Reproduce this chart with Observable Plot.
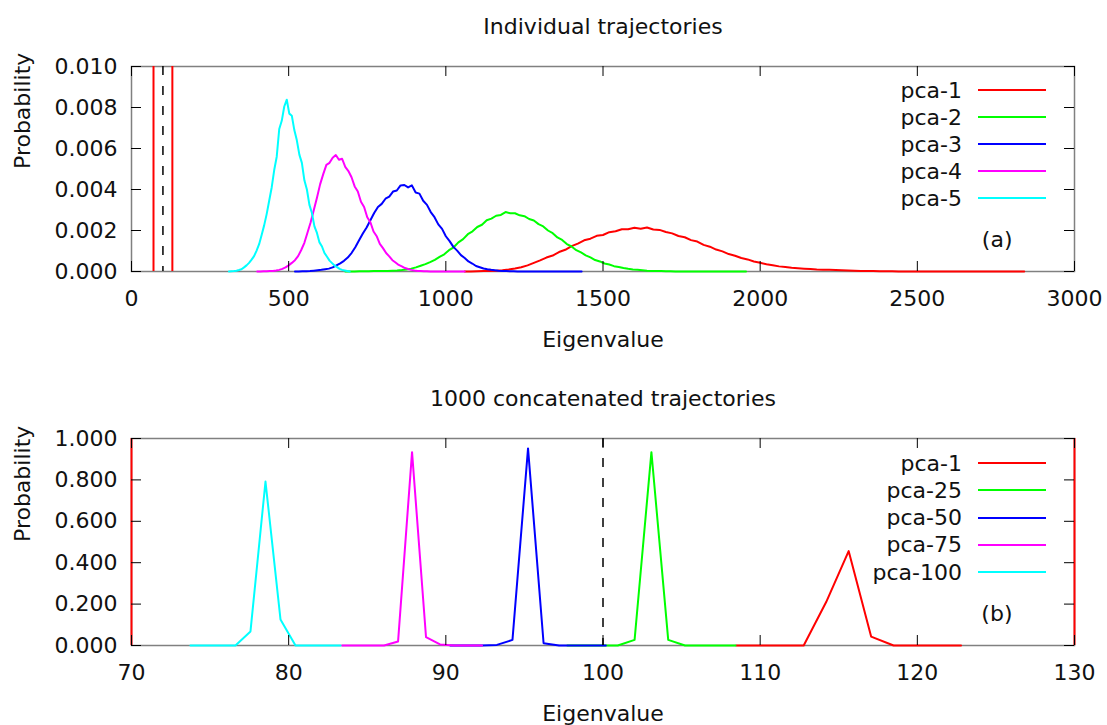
<!DOCTYPE html>
<html>
<head>
<meta charset="utf-8">
<script src="https://cdn.jsdelivr.net/npm/d3@7"></script>
<script src="https://cdn.jsdelivr.net/npm/@observablehq/plot@0.6"></script>
<style>
  html, body { margin: 0; padding: 0; background: #fff; overflow: hidden; }
  #fig { position: relative; width: 1107px; height: 725px; font-family: "DejaVu Sans", sans-serif; }
  #fig svg { position: absolute; left: 0; }
  .legend { position: absolute; left: 830px; font-size: 22px; color: #111; }
  .legend .row { display: flex; align-items: center; }
  .legend .name { width: 132px; text-align: right; }
  .legend .swatch { width: 68px; height: 0; border-top: 2.5px solid; margin-left: 16px; }
</style>
</head>
<body>
<div id="fig"></div>
<script>
// ---------- Panel (a): individual trajectories, eigenvalue histograms ----------
const topSeries = ["pca-1", "pca-2", "pca-3", "pca-4", "pca-5"];
// histogram bin grid (first bin position and bin width, eigenvalue units)
const topBinStart = [1060, 680, 520, 400, 310];
const topBinWidth = [20, 15, 12, 10, 8];
// probabilities in units of 1e-3
const pca1Top = [0,0,0.01,0.02,0.03,0.04,0.06,0.1,0.15,0.21,0.3,0.42,0.54,0.68,0.78,0.95,1.06,1.24,1.36,1.52,
  1.6,1.74,1.78,1.92,1.96,2.06,2.06,2.13,2.09,2.15,2.05,2.03,1.93,1.86,1.73,1.67,1.53,1.46,1.3,1.21,
  1.07,0.98,0.85,0.77,0.66,0.59,0.49,0.43,0.35,0.31,0.25,0.22,0.18,0.16,0.14,0.12,0.1,0.09,0.08,0.07,
  0.06,0.05,0.04,0.03,0.02,0.02,0.01,0.01,0.01,0,0,0,0,0,0,0,0,0,0,0,0,0,0,0,0,0,0,0,0,0];
const pca2Top = [0,0,0,0.01,0.01,0.01,0.02,0.02,0.03,0.03,0.04,0.05,0.07,0.1,0.14,0.2,0.28,0.36,0.46,0.57,
  0.71,0.84,1.04,1.18,1.42,1.58,1.82,1.96,2.17,2.28,2.5,2.58,2.72,2.76,2.9,2.84,2.84,2.74,2.7,2.56,
  2.49,2.31,2.2,2.0,1.87,1.66,1.54,1.34,1.22,1.04,0.93,0.79,0.69,0.56,0.49,0.39,0.34,0.26,0.22,0.17,
  0.13,0.1,0.08,0.06,0.04,0.03,0.02,0.02,0.01,0.01,0,0,0,0,0,0,0,0,0,0,0,0,0,0,0,0];
const pca3Top = [0,0,0.01,0.01,0.02,0.04,0.06,0.08,0.11,0.14,0.2,0.3,0.4,0.52,0.68,0.9,1.18,1.52,1.85,2.15,
  2.5,2.85,3.15,3.3,3.55,3.65,3.9,3.95,4.2,4.22,4.1,4.2,3.85,3.8,3.45,3.25,2.9,2.65,2.3,2.08,
  1.72,1.48,1.2,1.02,0.8,0.66,0.49,0.39,0.27,0.21,0.15,0.11,0.08,0.06,0.04,0.03,0.02,0.01,0.01,
  0,0,0,0,0,0,0,0,0,0,0,0,0,0,0,0,0,0];
const pca4Top = [0,0,0.01,0.01,0.02,0.03,0.05,0.08,0.13,0.2,0.3,0.42,0.55,0.75,1.05,1.4,1.9,2.4,3.0,3.6,
  4.25,4.75,5.2,5.3,5.55,5.68,5.45,5.5,5.1,4.9,4.6,4.15,3.9,3.4,3.15,2.65,2.4,1.95,1.72,1.35,
  1.14,0.9,0.74,0.55,0.44,0.32,0.25,0.17,0.12,0.08,0.05,0.03,0.02,0.01,0.01,
  0,0,0,0,0,0,0,0,0,0,0,0];
const pca5Top = [0,0.01,0.02,0.04,0.07,0.11,0.2,0.3,0.42,0.58,0.75,1.02,1.33,1.78,2.25,2.8,3.45,4.1,4.95,5.6,
  6.95,7.35,8.05,8.38,7.7,7.6,6.9,6.4,5.7,5.3,4.45,4.0,3.25,2.85,2.2,1.88,1.42,1.22,0.9,0.72,
  0.53,0.41,0.29,0.21,0.13,0.08,0.05,0.02,0];
const topValues = [pca1Top, pca2Top, pca3Top, pca4Top, pca5Top];
const topXTicks = [0, 500, 1000, 1500, 2000, 2500, 3000];
const topYTicks = [0, 0.002, 0.004, 0.006, 0.008, 0.010];

// ---------- Panel (b): 1000 concatenated trajectories ----------
const bottomSeries = ["pca-1", "pca-25", "pca-50", "pca-75", "pca-100"];
const bottomBinStart = [108.48, 97.73, 90.28, 83.4, 73.75];
const bottomBinWidth = [1.43, 1.07, 0.99, 0.89, 0.955];
const pca1Bottom   = [0, 0, 0, 0, 0.21, 0.456, 0.043, 0, 0, 0, 0];
const pca25Bottom  = [0, 0, 0, 0, 0.027, 0.934, 0.027, 0, 0, 0, 0];
const pca50Bottom  = [0, 0, 0, 0.003, 0.027, 0.952, 0.011, 0, 0, 0, 0];
const pca75Bottom  = [0, 0, 0, 0, 0.019, 0.934, 0.04, 0.005, 0, 0, 0];
const pca100Bottom = [0, 0, 0, 0, 0.068, 0.792, 0.126, 0, 0, 0, 0];
const bottomValues = [pca1Bottom, pca25Bottom, pca50Bottom, pca75Bottom, pca100Bottom];
const bottomXTicks = [70, 80, 90, 100, 110, 120, 130];
const bottomYTicks = [0, 0.2, 0.4, 0.6, 0.8, 1.0];

// reference lines: window of panel (b) and the dashed marker
const windowEdges = [70, 130];
const markerLine = [100];

const seriesColors = ["#ff0000", "#00ff00", "#0000ff", "#ff00ff", "#00ffff"];

function histogramRows(names, starts, widths, values, scale) {
  const rows = [];
  names.forEach((name, k) => {
    values[k].forEach((v, i) => rows.push({series: name, x: starts[k] + i * widths[k], y: v * scale}));
  });
  return rows;
}

const W = 1107;
const FS = 22;
const font = {fontFamily: "DejaVu Sans, sans-serif", fontSize: FS + "px", color: "#111", background: "transparent"};

function panel({rows, names, height, marginTop, marginBottom, xDomain, yDomain, xTicks, yTicks, title, tag}) {
  const marginLeft = 131, marginRight = 33;
  const frameW = W - marginLeft - marginRight;
  const frameH = height - marginTop - marginBottom;
  const tick = 10;
  return Plot.plot({
    width: W, height, marginLeft, marginRight, marginTop, marginBottom,
    style: font,
    x: {domain: xDomain, axis: null},
    y: {domain: yDomain, axis: null},
    color: {domain: names, range: seriesColors},
    marks: [
      Plot.frame({stroke: "#808080", strokeWidth: 1.5}),
      Plot.line(rows, {x: "x", y: "y", z: "series", stroke: "series", strokeWidth: 2}),
      Plot.ruleX(windowEdges, {x: d => d, stroke: "#ff0000", strokeWidth: 2}),
      Plot.ruleX(markerLine, {x: d => d, stroke: "#000", strokeWidth: 1.5, strokeDasharray: "9,11"}),
      // inward tick marks on all four sides
      Plot.tickX(xTicks, {x: d => d, insetTop: frameH - tick, stroke: "#000"}),
      Plot.tickX(xTicks, {x: d => d, insetBottom: frameH - tick, stroke: "#000"}),
      Plot.tickY(yTicks, {y: d => d, insetRight: frameW - tick, stroke: "#000"}),
      Plot.tickY(yTicks, {y: d => d, insetLeft: frameW - tick, stroke: "#000"}),
      Plot.axisX({ticks: xTicks, tickSize: 0, tickPadding: 19, tickFormat: d3.format("d"), label: null, fontSize: FS}),
      Plot.axisY({ticks: yTicks, tickSize: 0, tickPadding: 14, tickFormat: d3.format(".3f"), label: null, fontSize: FS}),
      Plot.text([title], {frameAnchor: "top", dy: -48, fontSize: FS}),
      Plot.text(["Eigenvalue"], {frameAnchor: "bottom", dy: 75, fontSize: FS}),
      Plot.text(["Probability"], {frameAnchor: "left", rotate: -90, dx: -109, fontSize: FS}),
      Plot.text([tag], {frameAnchor: "bottom-right", dx: -62, dy: -25, fontSize: FS})
    ]
  });
}

function legend(names, top, rowH) {
  const box = document.createElement("div");
  box.className = "legend";
  box.style.top = top + "px";
  names.forEach((name, k) => {
    const row = document.createElement("div");
    row.className = "row";
    row.style.height = rowH + "px";
    const label = document.createElement("span");
    label.className = "name";
    label.textContent = name;
    const sw = document.createElement("span");
    sw.className = "swatch";
    sw.style.borderTopColor = seriesColors[k];
    row.append(label, sw);
    box.append(row);
  });
  return box;
}

const fig = document.getElementById("fig");

const topPlot = panel({
  rows: histogramRows(topSeries, topBinStart, topBinWidth, topValues, 1e-3),
  names: topSeries, height: 362, marginTop: 66, marginBottom: 91,
  xDomain: [0, 3000], yDomain: [0, 0.010], xTicks: topXTicks, yTicks: topYTicks,
  title: "Individual trajectories", tag: "(a)"
});
topPlot.style.top = "0px";
fig.append(topPlot);

const bottomPlot = panel({
  rows: histogramRows(bottomSeries, bottomBinStart, bottomBinWidth, bottomValues, 1),
  names: bottomSeries, height: 363, marginTop: 76, marginBottom: 80,
  xDomain: [70, 130], yDomain: [0, 1], xTicks: bottomXTicks, yTicks: bottomYTicks,
  title: "1000 concatenated trajectories", tag: "(b)"
});
bottomPlot.style.top = "362px";
fig.append(bottomPlot);

fig.append(legend(topSeries, 76.5, 27));
fig.append(legend(bottomSeries, 449.4, 27.3));
</script>
</body>
</html>
